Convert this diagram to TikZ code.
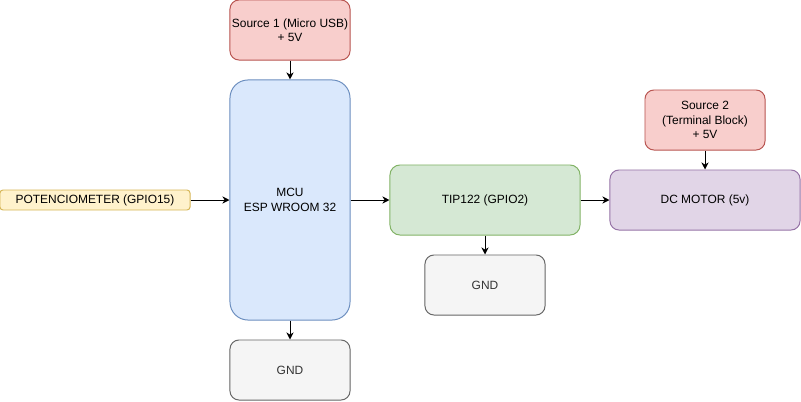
\documentclass[tikz,border=0pt]{standalone}
\usepackage{fontspec}
\setmainfont{Liberation Sans}
\usetikzlibrary{positioning,arrows.meta}

\definecolor{redfill}{HTML}{F8CECC}
\definecolor{redline}{HTML}{B85450}
\definecolor{bluefill}{HTML}{DAE8FC}
\definecolor{blueline}{HTML}{6C8EBF}
\definecolor{greenfill}{HTML}{D5E8D4}
\definecolor{greenline}{HTML}{82B366}
\definecolor{yellowfill}{HTML}{FFF2CC}
\definecolor{yellowline}{HTML}{D6B656}
\definecolor{greyfill}{HTML}{F5F5F5}
\definecolor{greyline}{HTML}{666666}
\definecolor{purplefill}{HTML}{E1D5E7}
\definecolor{purpleline}{HTML}{9673A6}

\begin{document}
\begin{tikzpicture}[x=0.025cm,y=-0.025cm,
  box/.style={draw,line width=0.7pt,align=center,inner sep=0pt,
    font=\fontsize{8.5}{10.3}\selectfont},
  wire/.style={-{Stealth[length=5pt,width=5pt,inset=1.5pt]},line width=0.7pt}]
\useasboundingbox (0,0) rectangle (801,401);
% sources
\node[box,fill=redfill,draw=redline,rounded corners=9*0.025cm,minimum width=3cm,minimum height=1.5cm] (src1) at (290,30) {Source 1 (Micro USB)\\+ 5V};
\node[box,fill=redfill,draw=redline,rounded corners=9*0.025cm,minimum width=3cm,minimum height=1.5cm] (src2) at (705,120) {Source 2\\(Terminal Block)\\+ 5V};
% main blocks
\node[box,fill=bluefill,draw=blueline,rounded corners=18*0.025cm,minimum width=3cm,minimum height=6cm] (mcu) at (290,200) {MCU\\ESP WROOM 32};
\node[box,fill=yellowfill,draw=yellowline,rounded corners=3*0.025cm,minimum width=4.75cm,minimum height=0.5cm] (pot) at (95,200) {POTENCIOMETER (GPIO15)};
\node[box,fill=greenfill,draw=greenline,rounded corners=10*0.025cm,minimum width=4.75cm,minimum height=1.75cm] (tip) at (485,200) {TIP122 (GPIO2)};
\node[box,fill=purplefill,draw=purpleline,rounded corners=9*0.025cm,minimum width=4.75cm,minimum height=1.5cm] (motor) at (705,200) {DC MOTOR (5v)};
% grounds
\node[box,fill=greyfill,draw=greyline,text=black!80,rounded corners=9*0.025cm,minimum width=3cm,minimum height=1.5cm] (gnd1) at (290,370) {GND};
\node[box,fill=greyfill,draw=greyline,text=black!80,rounded corners=9*0.025cm,minimum width=3cm,minimum height=1.5cm] (gnd2) at (485,285) {GND};

\draw[wire] (src1) -- (mcu);
\draw[wire] (pot) -- (mcu);
\draw[wire] (mcu) -- (gnd1);
\draw[wire] (mcu.east |- tip) -- (tip);
\draw[wire] (tip) -- (gnd2);
\draw[wire] (tip) -- (motor);
\draw[wire] (src2) -- (motor);
\end{tikzpicture}
\end{document}
